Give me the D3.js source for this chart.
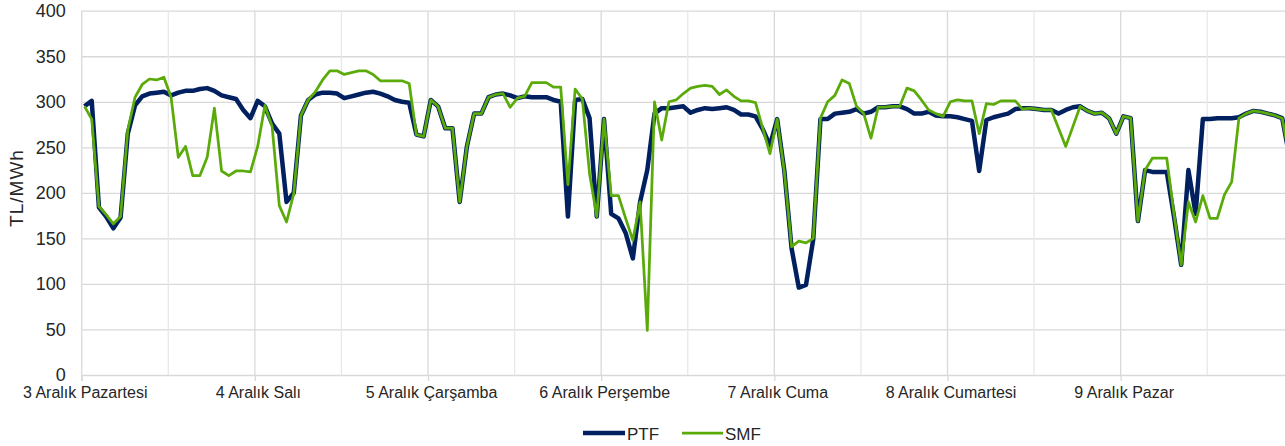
<!DOCTYPE html>
<html>
<head>
<meta charset="utf-8">
<script src="https://cdn.jsdelivr.net/npm/d3@7"></script>
<style>
  html, body { margin: 0; padding: 0; background: #ffffff; }
  svg { display: block; }
  text { font-family: "Liberation Sans", Arial, sans-serif; fill: #262626; }
</style>
</head>
<body>
<svg id="chart" width="1285" height="446"></svg>
<script>
// ---- data (hourly, 7 days x 24 h) ----
const dayLabels = ["3 Aralık Pazartesi", "4 Aralık Salı", "5 Aralık Çarşamba", "6 Aralık Perşembe", "7 Aralık Cuma", "8 Aralık Cumartesi", "9 Aralık Pazar"];
const yTicks = [0, 50, 100, 150, 200, 250, 300, 350, 400];
const seriesNames = ["PTF", "SMF"];

const ptf = [
  295, 301, 184, 174, 161, 173, 265, 296, 306, 309, 310, 311, 307, 310, 312, 312, 314, 315, 312, 307, 305, 303, 291, 282,
  301, 295, 276, 265, 190, 200, 285, 302, 308, 310, 310, 309, 304, 306, 308, 310, 311, 309, 306, 302, 300, 299, 264, 262,
  302, 295, 271, 271, 190, 251, 287, 287, 305, 308, 309, 307, 304, 306, 305, 305, 305, 302, 300, 174, 302, 303, 282, 174,
  281, 177, 172, 156, 128, 190, 225, 287, 293, 293, 294, 295, 288, 291, 293, 292, 293, 294, 291, 286, 286, 284, 270, 252,
  281, 224, 139, 96, 99, 149, 281, 281, 287, 288, 289, 292, 287, 289, 294, 294, 295, 295, 292, 287, 287, 289, 285, 284,
  284, 283, 281, 279, 224, 280, 283, 285, 287, 292, 293, 293, 292, 291, 291, 287, 291, 294, 295, 290, 287, 288, 282, 265,
  284, 282, 169, 225, 223, 223, 223, 174, 121, 225, 177, 281, 281, 282, 282, 282, 283, 287, 290, 289, 287, 285, 282, 240
];
const smf = [
  295, 281, 185, 176, 166, 174, 269, 305, 319, 325, 324, 327, 305, 239, 251, 219, 219, 239, 293, 224, 219, 224, 224, 223,
  251, 296, 273, 186, 168, 199, 285, 302, 311, 324, 334, 334, 330, 332, 334, 334, 330, 323, 323, 323, 323, 320, 264, 262,
  302, 295, 271, 271, 190, 251, 287, 287, 305, 308, 309, 294, 304, 306, 321, 321, 321, 316, 316, 209, 314, 303, 221, 174,
  281, 197, 197, 172, 148, 190, 49, 300, 258, 300, 302, 309, 315, 317, 318, 317, 308, 313, 306, 301, 301, 299, 271, 243,
  281, 223, 141, 147, 145, 150, 282, 300, 307, 324, 320, 295, 287, 260, 294, 294, 295, 295, 315, 312, 302, 291, 287, 284,
  300, 302, 301, 301, 265, 298, 297, 301, 301, 301, 292, 293, 292, 291, 291, 271, 251, 273, 295, 290, 287, 288, 282, 265,
  284, 282, 169, 225, 238, 238, 238, 177, 121, 190, 168, 197, 172, 172, 198, 212, 282, 287, 290, 289, 287, 285, 282, 240
];

// ---- layout ----
const W = 1285, H = 446;
const plotLeft = 81.7, plotTop = 10.7, plotBottom = 375;
const nCat = 168;
const catW = 7.215;
const ptOffset = 0.39;

const svg = d3.select("#chart");

const x = d3.scaleLinear().domain([0, nCat]).range([plotLeft, plotLeft + nCat * catW]);
const y = d3.scaleLinear().domain([0, 400]).range([plotBottom, plotTop]);

// horizontal gridlines + y labels
const yAxis = d3.axisLeft(y).tickValues(yTicks).tickSize(-(W - plotLeft)).tickPadding(16);
const gy = svg.append("g").attr("transform", `translate(${plotLeft},0)`).call(yAxis);
gy.select(".domain").remove();
gy.selectAll(".tick line").attr("stroke", "#d9d9d9").attr("stroke-width", 1.3);
gy.selectAll(".tick text").style("font-size", "18px").attr("fill", "#262626");

// vertical gridlines every 12 categories
const vGrid = d3.range(12, nCat, 12);
svg.append("g").selectAll("line").data(vGrid).join("line")
  .attr("x1", d => x(d)).attr("x2", d => x(d))
  .attr("y1", plotTop).attr("y2", plotBottom)
  .attr("stroke", d => d % 24 === 0 ? "#d9d9d9" : "#e8e8e8")
  .attr("stroke-width", 1.3);

// left axis line
svg.append("line").attr("x1", plotLeft).attr("x2", plotLeft).attr("y1", plotTop).attr("y2", plotBottom + 6)
  .attr("stroke", "#d9d9d9").attr("stroke-width", 1.3);

// x axis
const majorTicks = d3.range(0, nCat, 24);
const xAxis = d3.axisBottom(x).tickValues(majorTicks)
  .tickFormat((d, i) => dayLabels[i]).tickSize(6).tickPadding(6);
const gx = svg.append("g").attr("transform", `translate(0,${plotBottom})`).call(xAxis);
gx.select(".domain").remove();
gx.selectAll(".tick line").attr("stroke", "#d9d9d9").attr("stroke-width", 1.3);
gx.selectAll(".tick text").style("font-size", "16px").attr("fill", "#262626").attr("dx", 3);

// y axis title
svg.append("text")
  .attr("transform", `translate(23,188) rotate(-90)`)
  .attr("text-anchor", "middle")
  .style("font-size", "19px")
  .style("letter-spacing", "1px")
  .text("TL/MWh");

// lines
const line = d3.line()
  .x((d, i) => x(i + ptOffset))
  .y(d => y(d))
  .curve(d3.curveLinear);

svg.append("path").datum(ptf)
  .attr("d", line).attr("fill", "none")
  .attr("stroke", "#002060").attr("stroke-width", 4.5).attr("stroke-linejoin", "round");
svg.append("path").datum(smf)
  .attr("d", line).attr("fill", "none")
  .attr("stroke", "#5aab0a").attr("stroke-width", 2.75).attr("stroke-linejoin", "round");

// legend
const legend = [
  { name: seriesNames[0], color: "#002060", w: 4.5, x1: 583, x2: 625 },
  { name: seriesNames[1], color: "#5aab0a", w: 2.75, x1: 682, x2: 723 }
];
const lg = svg.append("g");
legend.forEach(l => {
  lg.append("line").attr("x1", l.x1).attr("x2", l.x2).attr("y1", 433).attr("y2", 433)
    .attr("stroke", l.color).attr("stroke-width", l.w);
  lg.append("text").attr("x", l.x2 + 2).attr("y", 440).style("font-size", "17px").text(l.name);
});
</script>
</body>
</html>
